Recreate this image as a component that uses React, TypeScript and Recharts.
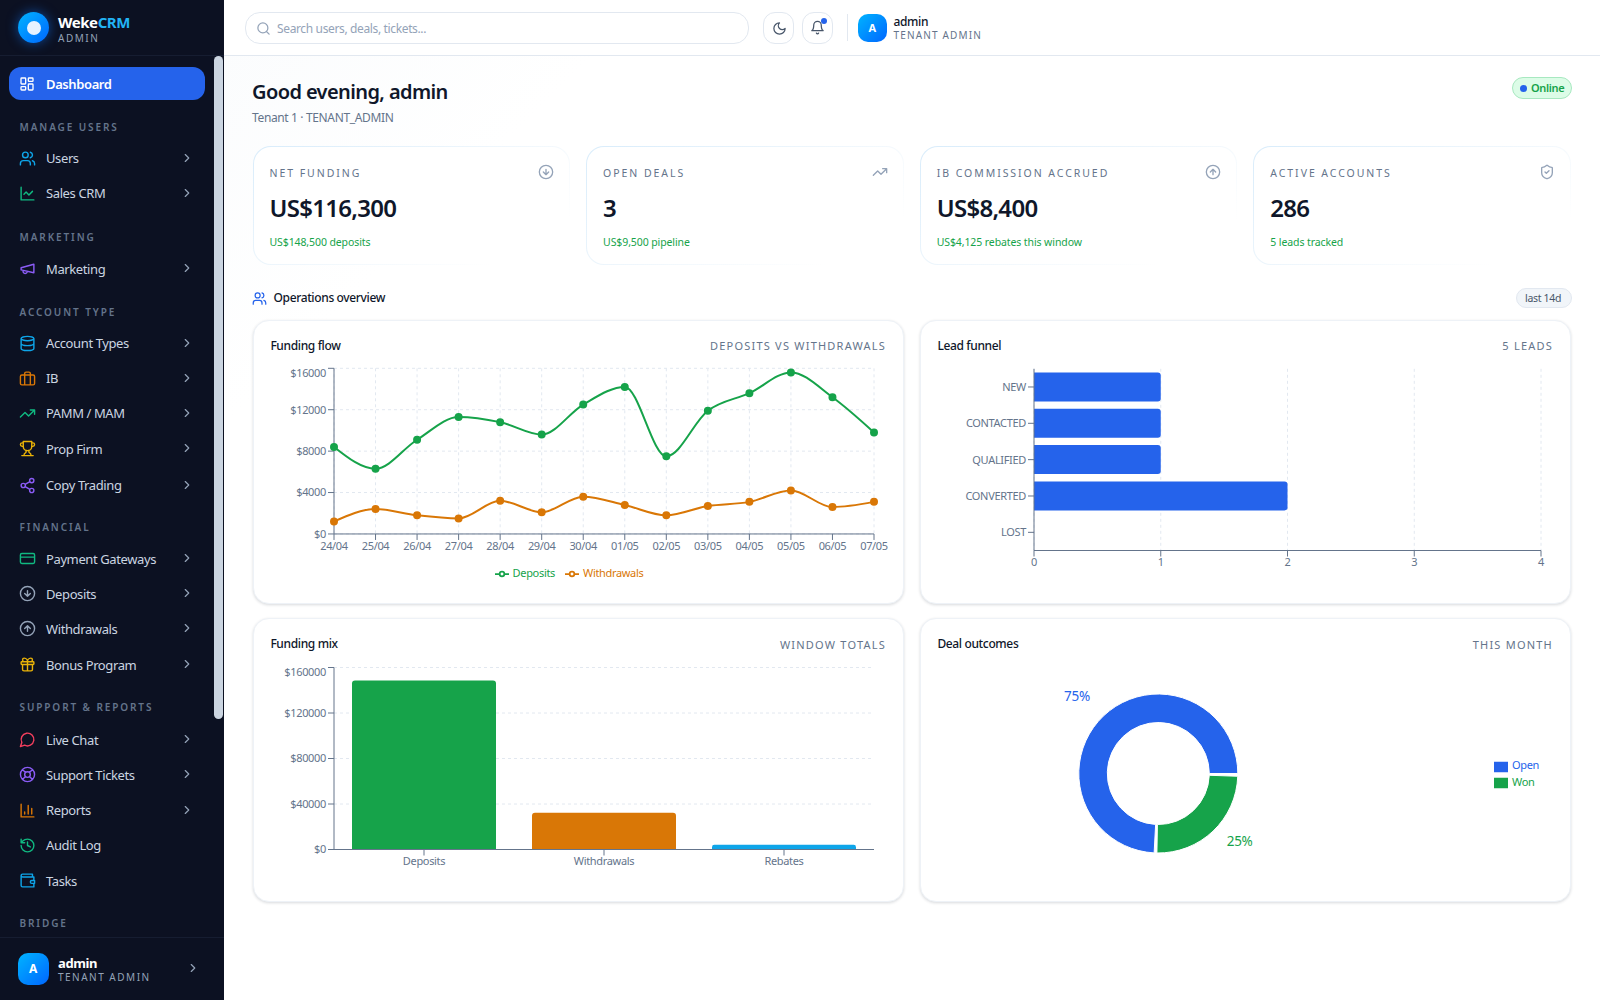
import {
  LineChart, Line, BarChart, Bar, PieChart, Pie, Cell, XAxis, YAxis, CartesianGrid, Legend,
} from 'recharts';

const days = ['24/04', '25/04', '26/04', '27/04', '28/04', '29/04', '30/04', '01/05', '02/05', '03/05', '04/05', '05/05', '06/05', '07/05'];
const deposits = [8400, 6300, 9100, 11300, 10800, 9600, 12500, 14200, 7500, 11900, 13600, 15600, 13200, 9800];
const withdrawals = [1200, 2400, 1800, 1500, 3200, 2100, 3600, 2800, 1800, 2700, 3100, 4200, 2600, 3100];
const flowTicks = [0, 4000, 8000, 12000, 16000];

const stages = ['NEW', 'CONTACTED', 'QUALIFIED', 'CONVERTED', 'LOST'];
const stageCounts = [1, 1, 1, 2, 0];
const stageTicks = [0, 1, 2, 3, 4];

const mixNames = ['Deposits', 'Withdrawals', 'Rebates'];
const mixValues = [148500, 32200, 4125];
const mixColors = ['#16a34a', '#d97706', '#0ea5e9'];
const mixTicks = [0, 40000, 80000, 120000, 160000];

const outcomeNames = ['Open', 'Won'];
const outcomeValues = [3, 1];
const outcomeColors = ['#2563eb', '#16a34a'];

const flowData = days.map((day, i) => ({ day, Deposits: deposits[i], Withdrawals: withdrawals[i] }));
const funnelData = stages.map((stage, i) => ({ stage, count: stageCounts[i] }));
const mixData = mixNames.map((name, i) => ({ name, value: mixValues[i] }));
const outcomeData = outcomeNames.map((name, i) => ({ name, value: outcomeValues[i] }));

const FONT = '"Noto Sans", sans-serif';
const TICK = { fill: '#64748b', fontSize: 11 };
const AXIS = '#64748b';
const GRID = '#e2e8f0';

const circ = (x: number, y: number, r: number) => `M${x - r} ${y}a${r} ${r} 0 1 0 ${2 * r} 0a${r} ${r} 0 1 0 ${-2 * r} 0`;
const box = (x: number, y: number, w: number, h: number, r: number) =>
  `M${x + r} ${y}h${w - 2 * r}a${r} ${r} 0 0 1 ${r} ${r}v${h - 2 * r}a${r} ${r} 0 0 1 ${-r} ${r}h${-(w - 2 * r)}a${r} ${r} 0 0 1 ${-r} ${-r}v${-(h - 2 * r)}a${r} ${r} 0 0 1 ${r} ${-r}z`;

const ICONS: Record<string, string> = {
  dashboard: box(3, 3, 7, 9, 1) + box(14, 3, 7, 5, 1) + box(14, 12, 7, 9, 1) + box(3, 16, 7, 5, 1),
  users: 'M16 21v-2a4 4 0 0 0-4-4H6a4 4 0 0 0-4 4v2' + circ(9, 7, 4) + 'M22 21v-2a4 4 0 0 0-3-3.87M16 3.13a4 4 0 0 1 0 7.75',
  chart: 'M3 3v18h18M19 9l-5 5-4-4-3 3',
  megaphone: 'M3 11l18-5v12L3 14v-3zM11.6 16.8a3 3 0 1 1-5.8-1.6',
  database: 'M3 5a9 3 0 1 0 18 0a9 3 0 1 0-18 0M3 5V19A9 3 0 0 0 21 19V5M3 12A9 3 0 0 0 21 12',
  briefcase: box(2, 7, 20, 14, 2) + 'M16 21V5a2 2 0 0 0-2-2h-4a2 2 0 0 0-2 2v16',
  trending: 'M22 7l-8.5 8.5-5-5L2 17M16 7h6v6',
  trophy: 'M6 9H4.5a2.5 2.5 0 0 1 0-5H6M18 9h1.5a2.5 2.5 0 0 0 0-5H18M4 22h16M10 14.66V17c0 .55-.47.98-.97 1.21C7.85 18.75 7 20.24 7 22M14 14.66V17c0 .55.47.98.97 1.21C16.15 18.75 17 20.24 17 22M18 2H6v7a6 6 0 0 0 12 0V2Z',
  share: circ(18, 5, 3) + circ(6, 12, 3) + circ(18, 19, 3) + 'M8.59 13.51l6.83 3.98M15.41 6.51l-6.82 3.98',
  card: box(2, 5, 20, 14, 2) + 'M2 10h20',
  down: circ(12, 12, 10) + 'M8 12l4 4 4-4M12 8v8',
  up: circ(12, 12, 10) + 'M16 12l-4-4-4 4M12 16V8',
  gift: box(3, 8, 18, 4, 1) + 'M12 8v13M19 12v7a2 2 0 0 1-2 2H7a2 2 0 0 1-2-2v-7M7.5 8a2.5 2.5 0 0 1 0-5C10.5 3 12 6 12 8c0-2 1.5-5 4.5-5a2.5 2.5 0 0 1 0 5',
  chat: 'M7.9 20A9 9 0 1 0 4 16.1L2 22Z',
  buoy: circ(12, 12, 10) + circ(12, 12, 4) + 'M4.93 4.93l4.24 4.24M14.83 9.17l4.24-4.24M14.83 14.83l4.24 4.24M9.17 14.83l-4.24 4.24',
  bars: 'M3 3v18h18M18 17V9M13 17V5M8 17v-3',
  history: 'M3 12a9 9 0 1 0 9-9 9.75 9.75 0 0 0-6.74 2.74L3 8M3 3v5h5M12 7v5l4 2',
  wallet: 'M21 12V7H5a2 2 0 0 1 0-4h14v4M3 5v14a2 2 0 0 0 2 2h16v-5M18 12a2 2 0 0 0 0 4h4v-4Z',
  chevron: 'M9 18l6-6-6-6',
  search: circ(11, 11, 8) + 'M21 21l-4.3-4.3',
  moon: 'M12 3a6 6 0 0 0 9 9 9 9 0 1 1-9-9Z',
  bell: 'M6 8a6 6 0 0 1 12 0c0 7 3 9 3 9H3s3-2 3-9M10.3 21a1.94 1.94 0 0 0 3.4 0',
  shield: 'M20 13c0 5-3.5 7.5-7.66 8.95a1 1 0 0 1-.67-.01C7.5 20.5 4 18 4 13V6a1 1 0 0 1 1-1c2 0 4.5-1.2 6.24-2.72a1.17 1.17 0 0 1 1.52 0C14.51 3.81 17 5 19 5a1 1 0 0 1 1 1zM9 12l2 2 4-4',
};

const sections: [string, number][] = [
  ['MANAGE USERS', 126.5], ['MARKETING', 237], ['ACCOUNT TYPE', 311.5], ['FINANCIAL', 527.3], ['SUPPORT & REPORTS', 707.3], ['BRIDGE', 923.3],
];
const navItems: [string, number, string, string, boolean][] = [
  ['Users', 158.2, 'users', '#0ea5e9', true],
  ['Sales CRM', 193.2, 'chart', '#10b981', true],
  ['Marketing', 268.8, 'megaphone', '#8b5cf6', true],
  ['Account Types', 343.2, 'database', '#0ea5e9', true],
  ['IB', 378.2, 'briefcase', '#d97706', true],
  ['PAMM / MAM', 413.2, 'trending', '#10b981', true],
  ['Prop Firm', 448.8, 'trophy', '#eab308', true],
  ['Copy Trading', 485.2, 'share', '#8b5cf6', true],
  ['Payment Gateways', 558.8, 'card', '#10b981', true],
  ['Deposits', 593.8, 'down', '#94a3b8', true],
  ['Withdrawals', 628.8, 'up', '#94a3b8', true],
  ['Bonus Program', 664.8, 'gift', '#eab308', true],
  ['Live Chat', 739.8, 'chat', '#f43f5e', true],
  ['Support Tickets', 774.8, 'buoy', '#8b5cf6', true],
  ['Reports', 810.2, 'bars', '#d97706', true],
  ['Audit Log', 845.2, 'history', '#10b981', false],
  ['Tasks', 880.8, 'wallet', '#0ea5e9', false],
];
const kpis: [string, string, string, string][] = [
  ['NET FUNDING', 'US$116,300', 'US$148,500 deposits', 'down'],
  ['OPEN DEALS', '3', 'US$9,500 pipeline', 'trending'],
  ['IB COMMISSION ACCRUED', 'US$8,400', 'US$4,125 rebates this window', 'up'],
  ['ACTIVE ACCOUNTS', '286', '5 leads tracked', 'shield'],
];

const Icon = ({ name, x, y, size, color, width = 2 }: { name: string; x: number; y: number; size: number; color: string; width?: number }) => (
  <svg width={size} height={size} viewBox="0 0 24 24" fill="none" stroke={color} strokeWidth={width} strokeLinecap="round" strokeLinejoin="round"
    style={{ position: 'absolute', left: x - size / 2, top: y - size / 2 }}>
    <path d={ICONS[name]} />
  </svg>
);

// single line of text, vertically centred on y
const Label = ({ x, y, right, size, color, weight = 400, spacing = '-0.03em', children }: any) => (
  <div style={{
    position: 'absolute', top: y - 10, height: 20, lineHeight: '20px', whiteSpace: 'nowrap',
    left: right === undefined ? x : undefined, right: right === undefined ? undefined : 1600 - right,
    fontSize: size, color, fontWeight: weight, letterSpacing: spacing,
  }}>{children}</div>
);

const Sidebar = () => (
  <div style={{ position: 'absolute', left: 0, top: 0, width: 224, height: 1000, background: '#0c1122' }}>
    <div style={{ position: 'absolute', left: 0, top: 55, width: 224, height: 1, background: '#161d31' }} />
    <div style={{ position: 'absolute', left: 18, top: 12, width: 31, height: 31, borderRadius: 16, background: 'linear-gradient(135deg,#00b4ff,#0066ff)', boxShadow: '0 0 12px rgba(14,120,255,.55)' }} />
    <div style={{ position: 'absolute', left: 26.5, top: 20.5, width: 14, height: 14, borderRadius: 7, background: '#e8f2ff' }} />
    <Label x={58} y={22} size={15} color="#fff" weight={700}>Weke<span style={{ color: '#22b4f5' }}>CRM</span></Label>
    <Label x={58} y={37.5} size={10} color="#94a3b8" spacing={1.5}>ADMIN</Label>
    <div style={{ position: 'absolute', left: 9, top: 66.5, width: 196, height: 33, borderRadius: 12, background: '#2563eb' }} />
    <Icon name="dashboard" x={27} y={83.5} size={16} color="#fff" />
    <Label x={46} y={84} size={13} color="#fff" weight={600}>Dashboard</Label>
    {sections.map(([text, y]) => (
      <Label key={text} x={19.5} y={y} size={10} color="#64748b" weight={600} spacing={1.9}>{text}</Label>
    ))}
    {navItems.map(([text, y, icon, color, more]) => (
      <div key={text}>
        <Icon name={icon} x={27} y={y} size={17} color={color} />
        <Label x={46} y={y} size={13} color="#cbd5e1">{text}</Label>
        {more && <Icon name="chevron" x={186.5} y={y - 0.5} size={14} color="#94a3b8" />}
      </div>
    ))}
    <div style={{ position: 'absolute', left: 214, top: 56, width: 9, height: 663, borderRadius: 5, background: '#cbd5e1' }} />
    <div style={{ position: 'absolute', left: 0, top: 937, width: 224, height: 63, background: '#0c1122', borderTop: '1px solid #161d31', boxSizing: 'border-box' }} />
    <div style={{ position: 'absolute', left: 17.5, top: 953, width: 31.5, height: 31.5, borderRadius: 10, background: 'linear-gradient(135deg,#00b4ff,#0066ff)', color: '#fff', fontSize: 12, fontWeight: 700, textAlign: 'center', lineHeight: '31px' }}>A</div>
    <Label x={58} y={962.5} size={13} color="#fff" weight={700}>admin</Label>
    <Label x={58} y={977} size={10} color="#94a3b8" spacing={1.5}>TENANT ADMIN</Label>
    <Icon name="chevron" x={193} y={968} size={14} color="#94a3b8" />
  </div>
);

const TopBar = () => (
  <>
    <div style={{ position: 'absolute', left: 224, top: 0, width: 1376, height: 56, background: '#fff', borderBottom: '1px solid #e2e8f0', boxSizing: 'border-box' }} />
    <div style={{ position: 'absolute', left: 245, top: 12, width: 504, height: 32, border: '1px solid #e2e8f0', borderRadius: 15, boxSizing: 'border-box' }} />
    <Icon name="search" x={263} y={28.5} size={15} color="#94a3b8" />
    <Label x={277} y={28.5} size={12} color="#94a3b8">Search users, deals, tickets...</Label>
    <div style={{ position: 'absolute', left: 763, top: 12, width: 31, height: 32, border: '1px solid #e2e8f0', borderRadius: 12, boxSizing: 'border-box' }} />
    <Icon name="moon" x={779} y={28} size={15} color="#475569" />
    <div style={{ position: 'absolute', left: 802, top: 12, width: 31, height: 32, border: '1px solid #e2e8f0', borderRadius: 12, boxSizing: 'border-box' }} />
    <Icon name="bell" x={817} y={27.5} size={15} color="#475569" />
    <div style={{ position: 'absolute', left: 821, top: 17.5, width: 6, height: 6, borderRadius: 3, background: '#2563eb' }} />
    <div style={{ position: 'absolute', left: 847, top: 14, width: 1, height: 27, background: '#e2e8f0' }} />
    <div style={{ position: 'absolute', left: 858, top: 13.5, width: 28.5, height: 28.5, borderRadius: 10, background: 'linear-gradient(135deg,#00b4ff,#0066ff)', color: '#fff', fontSize: 11, fontWeight: 700, textAlign: 'center', lineHeight: '28px' }}>A</div>
    <Label x={893.5} y={22} size={12} color="#0f172a" weight={500}>admin</Label>
    <Label x={893.5} y={34.5} size={10} color="#64748b" spacing={1.15}>TENANT ADMIN</Label>
  </>
);

const ChartCard = ({ x, y, h, title, note, noteY }: { x: number; y: number; h: number; title: string; note: string; noteY: number }) => (
  <>
    <div style={{ position: 'absolute', left: x, top: y, width: 651, height: h, borderRadius: 16, background: '#fff', border: '1px solid #eef2f7', boxShadow: '0 1px 3px rgba(15,23,42,.16)', boxSizing: 'border-box' }} />
    <Label x={x + 17.4} y={y + 26.5} size={12} color="#0f172a" weight={500}>{title}</Label>
    <Label right={x + 633} y={noteY} size={11} color="#64748b" spacing={1.22}>{note}</Label>
  </>
);

const money = (v: number) => `$${v}`;

const chartBox = (left: number, top: number) => ({ position: 'absolute' as const, left, top, letterSpacing: '-0.33px' });

const FundingFlow = () => (
  <div style={chartBox(271, 367)}>
    <LineChart width={615} height={218} data={flowData} margin={{ top: 1.3, right: 12, bottom: 5, left: 3 }}>
      <CartesianGrid strokeDasharray="3 3" stroke={GRID} />
      <XAxis dataKey="day" tick={TICK} stroke={AXIS} />
      <YAxis width={60} domain={[0, 16000]} ticks={flowTicks} tick={TICK} stroke={AXIS} tickFormatter={money} />
      <Legend wrapperStyle={{ fontSize: 11, bottom: 4 }} />
      <Line type="monotone" dataKey="Deposits" stroke="#16a34a" strokeWidth={2} dot={{ r: 3, fill: '#16a34a' }} isAnimationActive={false} />
      <Line type="monotone" dataKey="Withdrawals" stroke="#d97706" strokeWidth={2} dot={{ r: 3, fill: '#d97706' }} isAnimationActive={false} />
    </LineChart>
  </div>
);

const LeadFunnel = () => (
  <div style={chartBox(938, 365)}>
    <BarChart width={615} height={220} data={funnelData} layout="vertical" margin={{ top: 3.8, right: 12, bottom: 4.5, left: 6 }}>
      <CartesianGrid strokeDasharray="3 3" stroke={GRID} horizontal={false} />
      <XAxis type="number" domain={[0, 4]} ticks={stageTicks} tick={TICK} stroke={AXIS} />
      <YAxis type="category" dataKey="stage" width={90} tick={TICK} stroke={AXIS} interval={0} />
      <Bar dataKey="count" fill="#2563eb" radius={[0, 3, 3, 0]} isAnimationActive={false} />
    </BarChart>
  </div>
);

const FundingMix = () => (
  <div style={chartBox(271, 665.5)}>
    <BarChart width={615} height={218.5} data={mixData} margin={{ top: 1.5, right: 12, bottom: 5, left: 3 }}>
      <CartesianGrid strokeDasharray="3 3" stroke={GRID} vertical={false} />
      <XAxis dataKey="name" tick={TICK} stroke={AXIS} />
      <YAxis width={60} domain={[0, 160000]} ticks={mixTicks} tick={TICK} stroke={AXIS} tickFormatter={money} />
      <Bar dataKey="value" radius={[3, 3, 0, 0]} isAnimationActive={false}>
        {mixData.map((_, i) => <Cell key={i} fill={mixColors[i]} />)}
      </Bar>
    </BarChart>
  </div>
);

const DealOutcomes = () => (
  <div style={chartBox(938, 664)}>
    <PieChart width={615} height={219} margin={{ top: 0, right: 4, bottom: 0, left: 0 }}>
      <Pie
        data={outcomeData}
        dataKey="value"
        nameKey="name"
        cx={220.3}
        cy={109.5}
        innerRadius={51}
        outerRadius={79.5}
        paddingAngle={2}
        labelLine={false}
        fontSize={13.5}
        label={({ percent }: any) => `${Math.round(percent * 100)}%`}
        isAnimationActive={false}
      >
        {outcomeData.map((_, i) => <Cell key={i} fill={outcomeColors[i]} />)}
      </Pie>
      <Legend layout="vertical" align="right" verticalAlign="middle" wrapperStyle={{ fontSize: 11 }} />
    </PieChart>
  </div>
);

export default function App() {
  return (
    <div style={{ position: 'relative', width: 1600, height: 1000, overflow: 'hidden', fontFamily: FONT, background: 'linear-gradient(135deg,#f8fafc 0%,#fff 25%,#fff 100%)' }}>
      <style>{'body{margin:0}.recharts-surface{overflow:visible}'}</style>
      <Sidebar />
      <TopBar />

      <Label x={252} y={92} size={20} color="#0f172a" weight={600}>Good evening, admin</Label>
      <Label x={252} y={118} size={12} color="#64748b">Tenant 1 · TENANT_ADMIN</Label>
      <div style={{ position: 'absolute', left: 1512, top: 77, width: 60, height: 22, borderRadius: 11, background: '#dcfce7', border: '1px solid #a7e8c0', boxSizing: 'border-box' }} />
      <div style={{ position: 'absolute', left: 1520, top: 84.5, width: 7, height: 7, borderRadius: 4, background: '#2563eb' }} />
      <Label x={1531} y={88} size={11} color="#16a34a" weight={600}>Online</Label>

      {kpis.map(([label, value, sub, icon], i) => {
        const x = 252.5 + i * 333.6;
        return (
          <div key={label}>
            <div style={{ position: 'absolute', left: x, top: 146, width: 317.5, height: 119, borderRadius: 18, border: '1px solid transparent', boxSizing: 'border-box', background: 'linear-gradient(#fff,#fff) padding-box, linear-gradient(150deg,#d8ecfb 0%,#eef6fc 45%,#ffffff 85%) border-box' }} />
            <Label x={x + 17} y={173} size={10.5} color="#64748b" spacing={1.95}>{label}</Label>
            <Label x={x + 17} y={208} size={24} color="#0f172a" weight={600}>{value}</Label>
            <Label x={x + 17} y={242} size={10.5} color="#16a34a" spacing="-0.1px">{sub}</Label>
            <Icon name={icon} x={x + 293.5} y={172} size={16} color="#94a3b8" />
          </div>
        );
      })}

      <Icon name="users" x={259.5} y={298} size={15} color="#2563eb" />
      <Label x={273.5} y={298} size={12} color="#0f172a" weight={500}>Operations overview</Label>
      <div style={{ position: 'absolute', left: 1516, top: 288, width: 56, height: 20, borderRadius: 10, background: '#f1f5f9', border: '1px solid #e2e8f0', boxSizing: 'border-box' }} />
      <Label x={1525} y={298} size={10.5} color="#475569">last 14d</Label>

      <ChartCard x={253} y={319.5} h={284} title="Funding flow" note="DEPOSITS VS WITHDRAWALS" noteY={345.5} />
      <ChartCard x={920} y={319.5} h={284} title="Lead funnel" note="5 LEADS" noteY={345.5} />
      <ChartCard x={253} y={617.5} h={284} title="Funding mix" note="WINDOW TOTALS" noteY={644.5} />
      <ChartCard x={920} y={617.5} h={284} title="Deal outcomes" note="THIS MONTH" noteY={644.5} />

      <FundingFlow />
      <LeadFunnel />
      <FundingMix />
      <DealOutcomes />
    </div>
  );
}
